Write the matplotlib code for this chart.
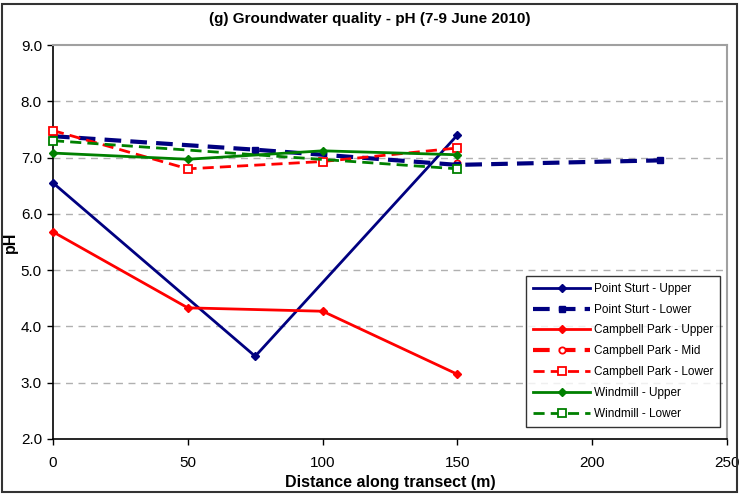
import matplotlib.pyplot as plt
from matplotlib.patches import Rectangle

plt.rcParams['font.family'] = ['Liberation Sans', 'DejaVu Sans']

# data
ps_upper_x = [0, 75, 150]
ps_upper_y = [6.55, 3.47, 7.40]
ps_lower_x = [0, 75, 150, 225]
ps_lower_y = [7.38, 7.14, 6.87, 6.95]
cp_upper_x = [0, 50, 100, 150]
cp_upper_y = [5.68, 4.33, 4.27, 3.15]
cp_mid_x = [150]
cp_mid_y = [6.90]
cp_lower_x = [0, 50, 100, 150]
cp_lower_y = [7.48, 6.80, 6.93, 7.17]
wm_upper_x = [0, 50, 100, 150]
wm_upper_y = [7.08, 6.97, 7.12, 7.05]
wm_lower_x = [0, 150]
wm_lower_y = [7.30, 6.80]

navy = '#000080'
red = '#ff0000'
green = '#008000'

fig = plt.figure(figsize=(7.39, 4.96), dpi=100)
ax = fig.add_axes([53 / 739, 1 - 439 / 496, (727 - 53) / 739, (439 - 45) / 496])

dash = (0, (4, 2.2))
ax.plot(ps_upper_x, ps_upper_y, color=navy, lw=2, marker='D', ms=4.5,
        label='Point Sturt - Upper', zorder=3, clip_on=False)
ax.plot(ps_lower_x, ps_lower_y, color=navy, lw=3, ls=dash, marker='s', ms=5,
        label='Point Sturt - Lower', zorder=3, clip_on=False)
ax.plot(cp_upper_x, cp_upper_y, color=red, lw=2, marker='D', ms=4.5,
        label='Campbell Park - Upper', zorder=3, clip_on=False)
ax.plot(cp_mid_x, cp_mid_y, color=red, lw=3, ls=dash, marker='o', ms=4.5,
        mfc='white', mew=1.3, label='Campbell Park - Mid', zorder=2)
ax.plot(cp_lower_x, cp_lower_y, color=red, lw=2, ls=dash, marker='s', ms=6,
        mfc='white', mew=1.3, label='Campbell Park - Lower', zorder=3, clip_on=False)
ax.plot(wm_upper_x, wm_upper_y, color=green, lw=2, marker='D', ms=4.5,
        label='Windmill - Upper', zorder=3, clip_on=False)
ax.plot(wm_lower_x, wm_lower_y, color=green, lw=2, ls=dash, marker='s', ms=6,
        mfc='white', mew=1.3, label='Windmill - Lower', zorder=3, clip_on=False)

ax.set_xlim(0, 250)
ax.set_ylim(2, 9)
ax.set_xticks(range(0, 251, 50))
ax.set_yticks(range(2, 10))
ax.set_yticklabels([f'{v:.1f}' for v in range(2, 10)])
ax.tick_params(labelsize=11, direction='out', length=4, width=1, pad=4)
ax.tick_params(axis='x', pad=8)
for y in range(3, 9):
    ax.axhline(y, color='#b0b0b0', lw=1, ls=(0, (5, 4)), zorder=1)

for s in ['left', 'bottom']:
    ax.spines[s].set_linewidth(1.2)
for s in ['top', 'right']:
    ax.spines[s].set_color('#a0a0a0')
    ax.spines[s].set_linewidth(1.5)

ax.set_xlabel('Distance along transect (m)', fontsize=11.5, fontweight='bold', labelpad=4)
ax.set_ylabel('pH', fontsize=11.5, fontweight='bold')
ax.yaxis.set_label_coords(-35 / 674, 0.5)
fig.text(0.5, 1 - 19 / 496, '(g) Groundwater quality - pH (7-9 June 2010)',
         ha='center', va='center', fontsize=11, fontweight='bold')

leg = ax.legend(loc='lower right', bbox_to_anchor=(720 / 739, 1 - 427 / 496),
                bbox_transform=fig.transFigure, fontsize=8.5, frameon=True,
                fancybox=False, edgecolor='black', handlelength=4.8,
                handletextpad=0.3, labelspacing=0.75, borderpad=0.6,
                borderaxespad=0)
leg.get_frame().set_linewidth(1)
leg.set_zorder(5)

fig.patches.append(Rectangle((2 / 739, 4 / 496), 735 / 739, 488 / 496,
                             transform=fig.transFigure, fill=False,
                             edgecolor='#333333', lw=1.5))

fig.savefig('out.png', dpi=100)
